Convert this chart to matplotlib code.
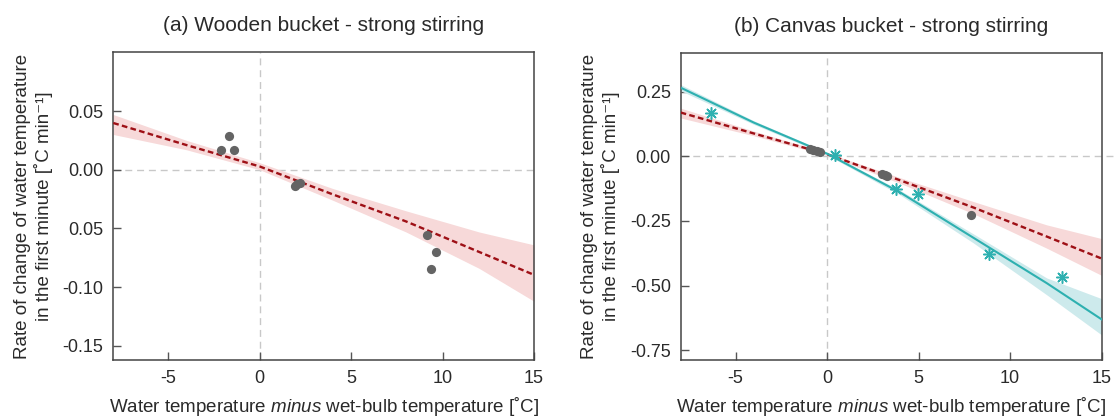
"""Bucket cooling rates: wooden vs canvas bucket, strong stirring"""

import matplotlib
matplotlib.use("Agg")
from matplotlib import pyplot as plt

# fitted curves sampled at these x positions
fit_x = [-8, -4, 0, 4, 8, 12, 15]

# (a) wooden bucket
a_obs_x = [-2.13, -1.68, -1.42, 1.92, 2.05, 2.2, 9.14, 9.62, 9.34]
a_obs_y = [0.0171, 0.0285, 0.0165, -0.0135, -0.012, -0.011, -0.0556, -0.0698, -0.0846]
a_red_fit = [0.0398, 0.021, 0.0028, -0.021, -0.044, -0.070, -0.0895]
a_red_hi = [0.047, 0.025, 0.006, -0.016, -0.035, -0.053, -0.064]
a_red_lo = [0.030, 0.017, 0.000, -0.026, -0.053, -0.084, -0.112]
a_yticks = [0.05, 0.0, -0.05, -0.10, -0.15]
a_ylabels = ["0.05", "0.00", "0.05", "-0.10", "-0.15"]

# (b) canvas bucket
b_dot_x = [-0.95, -0.75, -0.55, -0.4, 3.0, 3.15, 3.3, 7.88]
b_dot_y = [0.028, 0.024, 0.020, 0.017, -0.068, -0.072, -0.075, -0.228]
b_star_x = [-6.34, 0.45, 3.75, 4.97, 8.86, 12.83]
b_star_y = [0.169, 0.003, -0.126, -0.145, -0.376, -0.466]
b_red_fit = [0.169, 0.088, 0.008, -0.093, -0.198, -0.31, -0.395]
b_red_hi = [0.186, 0.097, 0.013, -0.083, -0.175, -0.265, -0.318]
b_red_lo = [0.148, 0.079, 0.003, -0.105, -0.222, -0.355, -0.46]
b_teal_fit = [0.265, 0.13, 0.01, -0.14, -0.315, -0.49, -0.63]
b_teal_hi = [0.277, 0.137, 0.015, -0.132, -0.30, -0.47, -0.55]
b_teal_lo = [0.253, 0.123, 0.005, -0.15, -0.335, -0.535, -0.69]
b_yticks = [0.25, 0.0, -0.25, -0.50, -0.75]
b_ylabels = ["0.25", "0.00", "-0.25", "-0.50", "-0.75"]

xticks = [-5, 0, 5, 10, 15]
xticklabels = ["-5", "0", "5", "10", "15"]

plt.rcParams["font.family"] = ["Liberation Sans", "DejaVu Sans"]
plt.rcParams["axes.unicode_minus"] = False
plt.rcParams["mathtext.fontset"] = "custom"
plt.rcParams["mathtext.it"] = "Liberation Sans:italic"
plt.rcParams["mathtext.rm"] = "Liberation Sans"

RED = "#9e1016"
PINK = "#f7d9d9"
TEAL = "#2eb0b0"
TEAL_BAND = "#cdeaec"
GREY = "#646464"
REF = "#c8c8c8"
TXT = "#2a2a2a"

fig = plt.figure(figsize=(11.14, 4.17), dpi=100)
ax1 = fig.add_axes([0.1017, 0.1367, 0.3777, 0.7379])
ax2 = fig.add_axes([0.6110, 0.1360, 0.3779, 0.7376])

xlabel = "Water temperature $\\mathit{minus}$ wet-bulb temperature [˚C]"
ylabel = "Rate of change of water temperature\nin the first minute [˚C min⁻¹]"

# panel (a)
ax1.axhline(0, color=REF, lw=1, dashes=(5, 3.5), zorder=1)
ax1.axvline(0, color=REF, lw=1, dashes=(5, 3.5), zorder=1)
ax1.fill_between(fit_x, a_red_lo, a_red_hi, color=PINK, lw=0, zorder=2)
ax1.plot(fit_x, a_red_fit, color=RED, lw=1.7, dashes=(2.4, 1.4), zorder=3)
ax1.scatter(a_obs_x, a_obs_y, s=44, color=GREY, lw=0, zorder=4)
ax1.set_ylim(-0.162, 0.1)
ax1.set_yticks(a_yticks)
ax1.set_yticklabels(a_ylabels)
ax1.set_title("(a) Wooden bucket - strong stirring", fontsize=15, pad=15,
              color=TXT)

# panel (b)
ax2.plot([-8, 15.65], [0, 0], color=REF, lw=1, dashes=(5, 3.5), zorder=1,
         clip_on=False)
ax2.axvline(0, color=REF, lw=1, dashes=(5, 3.5), zorder=1)
ax2.fill_between(fit_x, b_red_lo, b_red_hi, color=PINK, lw=0, zorder=2)
ax2.fill_between(fit_x, b_teal_lo, b_teal_hi, color=TEAL_BAND, lw=0, zorder=2)
ax2.plot(fit_x, b_red_fit, color=RED, lw=1.7, dashes=(2.4, 1.4), zorder=3)
ax2.plot(fit_x, b_teal_fit, color=TEAL, lw=1.5, zorder=3)
ax2.scatter(b_dot_x, b_dot_y, s=44, color=GREY, lw=0, zorder=4)
ax2.scatter(b_star_x, b_star_y, s=70, color=TEAL, marker=(8, 2, 0), lw=1.1,
            zorder=4)
ax2.set_ylim(-0.788, 0.4)
ax2.set_yticks(b_yticks)
ax2.set_yticklabels(b_ylabels)
ax2.set_title("(b) Canvas bucket - strong stirring", fontsize=15, pad=15,
              color=TXT)

for ax in (ax1, ax2):
    ax.set_xlim(-8, 15)
    ax.set_xticks(xticks)
    ax.set_xticklabels(xticklabels)
    ax.set_xlabel(xlabel, fontsize=13.5, labelpad=6, color=TXT)
    ax.set_ylabel(ylabel, fontsize=13.5, labelpad=7, color=TXT)
    ax.tick_params(axis="both", direction="in", length=6, width=1,
                   color="#555555", labelsize=13, labelcolor=TXT, pad=7)
    for spine in ax.spines.values():
        spine.set_color("#444444")
        spine.set_linewidth(1.1)

fig.savefig("out.png", dpi=100)
